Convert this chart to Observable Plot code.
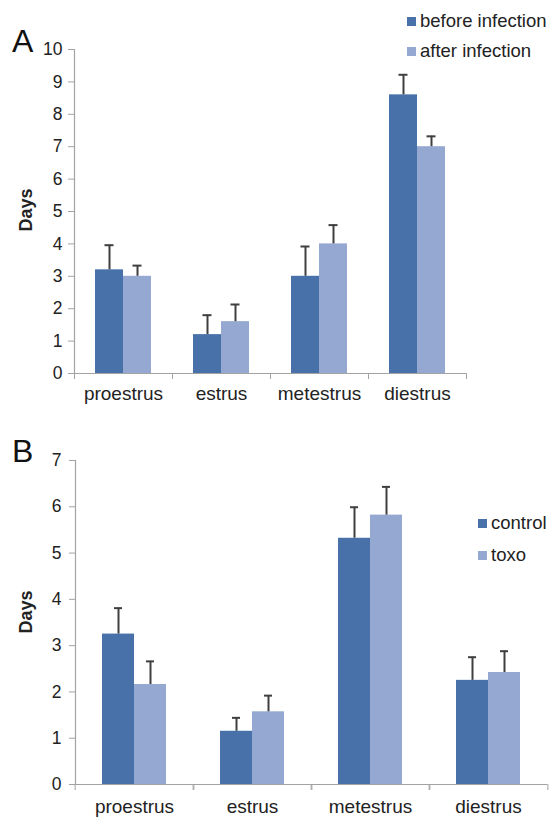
<!DOCTYPE html>
<html><head><meta charset="utf-8">
<script src="https://cdn.jsdelivr.net/npm/d3@7"></script>
<script src="https://cdn.jsdelivr.net/npm/@observablehq/plot@0.6"></script>
<style>
body{margin:0;background:#fff;}
#wrap{position:relative;width:550px;height:817px;font-family:"Liberation Sans",Arial,sans-serif;color:#222;overflow:hidden;}
.panel{position:absolute;left:0;}
.letter{position:absolute;font-size:32px;line-height:1;color:#111;}
.days{position:absolute;font-size:18px;font-weight:bold;transform:rotate(-90deg);transform-origin:center;line-height:1;width:60px;text-align:center;}
.leg{position:absolute;font-size:18.5px;line-height:1;color:#222;white-space:nowrap;}
.sw{display:inline-block;width:9px;height:9px;margin-right:4px;vertical-align:1px;}
</style>
</head><body>
<div id="wrap"></div>
<script>
// ---- data ----
const categories = ["proestrus", "estrus", "metestrus", "diestrus"];

const seriesA = ["before infection", "after infection"];
const beforeInfection = [3.2, 1.2, 3.0, 8.6];
const beforeInfectionErr = [0.76, 0.6, 0.92, 0.62];
const afterInfection = [3.0, 1.6, 4.0, 7.0];
const afterInfectionErr = [0.33, 0.53, 0.58, 0.32];
const ticksA = [0,1,2,3,4,5,6,7,8,9,10];

const seriesB = ["control", "toxo"];
const control = [3.25, 1.15, 5.32, 2.25];
const controlErr = [0.56, 0.29, 0.67, 0.5];
const toxo = [2.16, 1.57, 5.82, 2.42];
const toxoErr = [0.5, 0.35, 0.61, 0.46];
const ticksB = [0,1,2,3,4,5,6,7];

const colors = ["#4871aa", "#94a8d1"];
const axisGray = "#a3a3a3";
const errColor = "#3f3f3f";

function rows(series, vals, errs) {
  const out = [];
  categories.forEach((c, i) => {
    series.forEach((s, j) => out.push({category: c, series: s, value: vals[j][i], err: errs[j][i]}));
  });
  return out;
}

function panel(cfg) {
  const {data, series, ticks, height, mt, mb, ml, mr, padOuter, labelPad} = cfg;
  const width = 550;
  const bandW = (width - ml - mr) / categories.length;
  const barW = bandW / (2 + 2 * padOuter);
  const capInset = (barW - 9) / 2;
  return Plot.plot({
    width, height,
    marginTop: mt, marginBottom: mb, marginLeft: ml, marginRight: mr,
    style: {fontFamily: '"Liberation Sans", Arial, sans-serif', fontSize: "18px", background: "transparent", overflow: "visible"},
    fx: {domain: categories, padding: 0, label: null, axis: null},
    x: {domain: series, paddingInner: 0, paddingOuter: padOuter, axis: null},
    y: {domain: [0, ticks[ticks.length - 1]], label: null, axis: null},
    color: {domain: series, range: colors},
    marks: [
      Plot.barY(data, {fx: "category", x: "series", y: "value", fill: "series"}),
      Plot.ruleX(data, {fx: "category", x: "series", y1: "value", y2: d => d.value + d.err, stroke: errColor, strokeWidth: 2}),
      Plot.tickY(data, {fx: "category", x: "series", y: d => d.value + d.err, stroke: errColor, strokeWidth: 2, insetLeft: capInset, insetRight: capInset}),
      Plot.ruleY([0], {stroke: axisGray, strokeWidth: 1.2}),
      Plot.axisY({ticks, tickSize: 6, tickPadding: cfg.yPad, stroke: axisGray, fill: "#222", fontSize: "17.5px", label: null, tickFormat: d3.format("d")}),
      Plot.axisFx({anchor: "bottom", tickSize: 0, tickPadding: labelPad, fill: "#222", label: null, fontSize: "19px"}),
      Plot.axisFx({anchor: "bottom", tickSize: 6, tickFormat: () => "", dx: -bandW / 2, stroke: axisGray, label: null}),
      Plot.axisFx([categories[categories.length - 1]], {anchor: "bottom", tickSize: 6, tickFormat: () => "", dx: bandW / 2, stroke: axisGray, label: null}),
      Plot.frame({anchor: "left", stroke: axisGray, strokeWidth: 1.2, facet: "super"})
    ]
  });
}

const wrap = document.getElementById("wrap");

const dataA = rows(seriesA, [beforeInfection, afterInfection], [beforeInfectionErr, afterInfectionErr]);
const pA = panel({data: dataA, series: seriesA, ticks: ticksA, height: 410, mt: 49, mb: 37, ml: 74, mr: 84, padOuter: 0.75, labelPad: 13, yPad: 6});
const dA = document.createElement("div"); dA.className = "panel"; dA.style.top = "0px"; dA.appendChild(pA); wrap.appendChild(dA);

const dataB = rows(seriesB, [control, toxo], [controlErr, toxoErr]);
const pB = panel({data: dataB, series: seriesB, ticks: ticksB, height: 407, mt: 50, mb: 33, ml: 73, mr: 2, padOuter: 0.8, labelPad: 15, yPad: 8});
const dB = document.createElement("div"); dB.className = "panel"; dB.style.top = "410px"; dB.appendChild(pB); wrap.appendChild(dB);

function addText(cls, text, left, top) {
  const el = document.createElement("div");
  el.className = cls; el.textContent = text;
  el.style.left = left + "px"; el.style.top = top + "px";
  wrap.appendChild(el);
  return el;
}
addText("letter", "A", 12, 25);
addText("letter", "B", 12, 435);
addText("days", "Days", -4, 201);
addText("days", "Days", -4, 603);

function legend(series, left, top, gap) {
  series.forEach((s, i) => {
    const el = document.createElement("div");
    el.className = "leg";
    el.style.left = left + "px"; el.style.top = (top + i * gap) + "px";
    const sw = document.createElement("span"); sw.className = "sw"; sw.style.background = colors[i];
    el.appendChild(sw);
    el.appendChild(document.createTextNode(s));
    wrap.appendChild(el);
  });
}
legend(seriesA, 407, 12, 30);
legend(seriesB, 478, 514, 32);
</script>
</body></html>
